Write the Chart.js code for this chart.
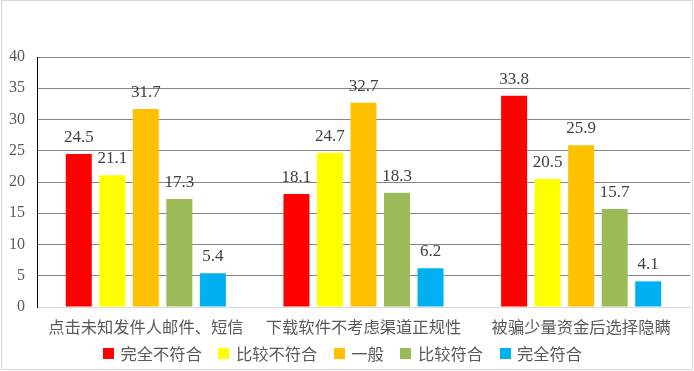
<!DOCTYPE html>
<html><head><meta charset="utf-8">
<script src="https://cdn.jsdelivr.net/npm/chart.js@4"></script>
<style>html,body{margin:0;padding:0;background:#fff}#wrap{position:absolute;left:0;top:0;width:694px;height:371px}</style>
</head><body><div id="wrap"><canvas id="c" width="694" height="371"></canvas></div>
<script>
const categories = ["点击未知发件人邮件、短信", "下载软件不考虑渠道正规性", "被骗少量资金后选择隐瞒"];
const seriesNames = ["完全不符合", "比较不符合", "一般", "比较符合", "完全符合"];
const s1 = [24.5, 18.1, 33.8];
const s2 = [21.1, 24.7, 20.5];
const s3 = [31.7, 32.7, 25.9];
const s4 = [17.3, 18.3, 15.7];
const s5 = [5.4, 6.2, 4.1];
const colors = ["#FF0000", "#FFFF00", "#FFC000", "#9BBB59", "#00B0F0"];
const yTicks = [0, 5, 10, 15, 20, 25, 30, 35, 40];

const serif = "'Liberation Serif', 'Times New Roman', serif";
const cjk = "'Noto Sans CJK SC', 'Noto Sans', sans-serif";

const labelPlugin = {
  id: 'vals',
  afterDatasetsDraw(chart) {
    const ctx = chart.ctx;
    ctx.save();
    ctx.font = "17px " + serif;
    ctx.fillStyle = "#404040";
    ctx.textAlign = "center";
    ctx.textBaseline = "alphabetic";
    chart.data.datasets.forEach((ds, i) => {
      chart.getDatasetMeta(i).data.forEach((el, j) => {
        ctx.fillText(ds.data[j].toFixed(1), el.x, el.y - 12);
      });
    });
    ctx.restore();
  }
};
const legendPlugin = {
  id: 'customLegend',
  afterDraw(chart) {
    const ctx = chart.ctx;
    ctx.save();
    ctx.font = "16.3px " + cjk;
    const box = 11, gapText = 6.5, gapItem = 16.5;
    const items = chart.data.datasets.map(ds => ({ text: ds.label, color: ds.backgroundColor, w: ctx.measureText(ds.label).width }));
    let total = 0;
    items.forEach((it, i) => { total += box + gapText + it.w + (i < items.length - 1 ? gapItem : 0); });
    let x = Math.round(342.5 - total / 2);
    const yc = 353.5;
    ctx.textBaseline = "middle";
    ctx.textAlign = "left";
    items.forEach(it => {
      ctx.fillStyle = it.color;
      ctx.fillRect(Math.round(x), yc - box / 2, box, box);
      ctx.fillStyle = "#595959";
      ctx.fillText(it.text, x + box + gapText, yc);
      x += box + gapText + it.w + gapItem;
    });
    ctx.restore();
  }
};
const borderPlugin = {
  id: 'frame',
  afterDraw(chart) {
    const ctx = chart.ctx;
    ctx.save();
    ctx.strokeStyle = "#d9d9d9";
    ctx.lineWidth = 1;
    ctx.strokeRect(1.5, 0.5, 691, 369);
    ctx.restore();
  }
};

new Chart(document.getElementById('c'), {
  type: 'bar',
  data: {
    labels: categories,
    datasets: [s1, s2, s3, s4, s5].map((d, i) => ({
      label: seriesNames[i], data: d, backgroundColor: colors[i],
      categoryPercentage: 0.77, barPercentage: 0.776
    }))
  },
  options: {
    responsive: false, animation: false, devicePixelRatio: 1,
    layout: { padding: { top: 57, right: 4, left: 0, bottom: 34 } },
    plugins: {
      tooltip: { enabled: false },
      legend: { display: false }
    },
    scales: {
      x: {
        grid: { display: false, drawTicks: false },
        border: { color: "#d9d9d9" },
        ticks: { color: "#595959", font: { family: cjk, size: 16.3 }, padding: 10, maxRotation: 0, autoSkip: false },
        afterFit(s) { s.height = 30; }
      },
      y: {
        min: 0, max: 40,
        afterBuildTicks(s) { s.ticks = yTicks.map(v => ({ value: v })); },
        grid: { color: ctx => ctx.tick.value === 0 ? "rgba(0,0,0,0)" : "#868686", drawTicks: false },
        border: { color: "#000000" },
        ticks: { color: "#595959", font: { family: serif, size: 16 }, padding: 12 },
        afterFit(s) { s.width = 37; }
      }
    }
  },
  plugins: [labelPlugin, legendPlugin, borderPlugin]
});
</script></body></html>
